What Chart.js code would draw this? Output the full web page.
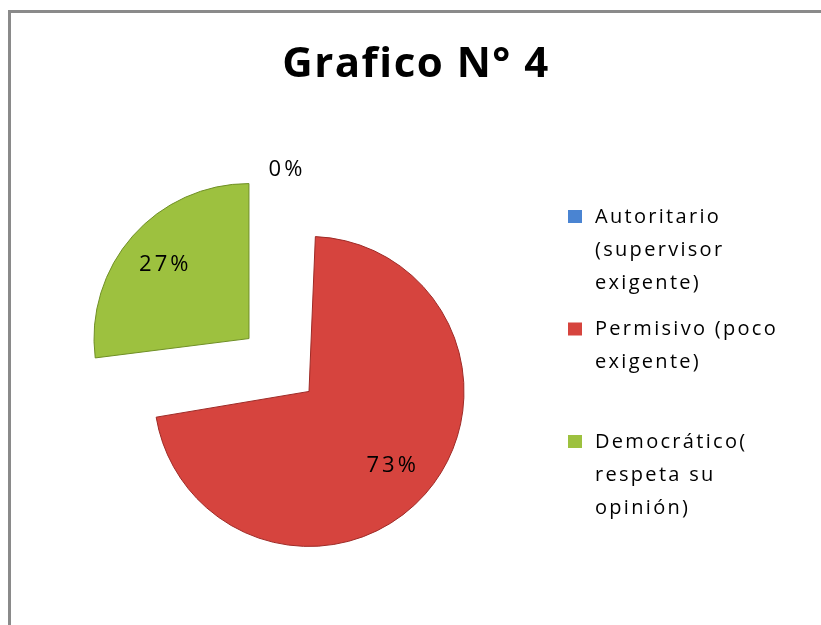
<!DOCTYPE html>
<html>
<head>
<meta charset="utf-8">
<script src="https://cdn.jsdelivr.net/npm/chart.js@4.4.1/dist/chart.umd.min.js"></script>
<style>
  html, body { margin: 0; padding: 0; background: #fff; }
  #marco {
    position: absolute; left: 8px; top: 10px; width: 813px; height: 615px;
    border-top: 3px solid #8a8a8a; border-left: 3px solid #8a8a8a; box-sizing: border-box;
  }
  #marco canvas { display: block; }
</style>
</head>
<body>
<div id="marco"><canvas id="myChart" width="810" height="612"></canvas></div>
<script>
// datos del grafico
const titulo = 'Grafico N° 4';
const categorias = ['Autoritario (supervisor exigente)', 'Permisivo (poco exigente)', 'Democrático( respeta su opinión)'];
const porcentajes = [0, 73, 27];
const colores = ['#4a84d2', '#d6443e', '#9dc13f'];
const bordes = ['#2f5f9e', '#9e2a26', '#6f8f25'];

const fuente = '"Open Sans", "DejaVu Sans", sans-serif';

// Chart.js agranda el radio de los arcos grandes con el offset; se compensa
function crecimiento(arco) {
    const circ = arco.endAngle - arco.startAngle;
    return (arco.options.offset / 4) * (1 - Math.sin(Math.min(Math.PI, circ)));
}

const pluginRadio = {
    id: 'radioIgual',
    afterDatasetUpdate(chart, args) {
        args.meta.data.forEach(function (arco) {
            arco.outerRadius = arco.outerRadius - crecimiento(arco);
        });
    }
};

// titulo dibujado en el centro del canvas
const pluginTitulo = {
    id: 'tituloCentro',
    afterDraw(chart) {
        const ctx = chart.ctx;
        ctx.save();
        ctx.font = 'bold 42px ' + fuente;
        ctx.letterSpacing = '1.5px';
        ctx.fillStyle = '#000';
        ctx.textAlign = 'center';
        ctx.textBaseline = 'alphabetic';
        ctx.fillText(titulo, chart.width / 2, 64);
        ctx.restore();
    }
};

// etiquetas de porcentaje sobre cada porcion
const pluginEtiquetas = {
    id: 'etiquetas',
    afterDatasetsDraw(chart) {
        const ctx = chart.ctx;
        const meta = chart.getDatasetMeta(0);
        ctx.save();
        ctx.font = '22px ' + fuente;
        ctx.letterSpacing = '3px';
        ctx.fillStyle = '#000';
        ctx.textAlign = 'center';
        ctx.textBaseline = 'middle';
        meta.data.forEach(function (arco, i) {
            const p = arco.getProps(['x', 'y', 'startAngle', 'endAngle', 'outerRadius']);
            const medio = (p.startAngle + p.endAngle) / 2;
            const desp = arco.options.offset / 4;
            const rVis = p.outerRadius + crecimiento(arco);
            let dist;
            if (porcentajes[i] == 0) {
                dist = rVis + 40;
            } else {
                dist = desp + rVis * 0.72;
            }
            ctx.fillText(porcentajes[i] + '%', p.x + Math.cos(medio) * dist + (porcentajes[i] == 0 ? 8 : 0), p.y + Math.sin(medio) * dist);
        });
        ctx.restore();
    }
};

// leyenda a la derecha con texto en varias lineas
const pluginLeyenda = {
    id: 'leyendaDerecha',
    afterDraw(chart) {
        const ctx = chart.ctx;
        const x0 = 557, y0 = 204, alto = 112.5, linea = 33, anchoMax = 190;
        ctx.save();
        ctx.font = '20px ' + fuente;
        ctx.letterSpacing = '2.3px';
        ctx.textBaseline = 'middle';
        ctx.textAlign = 'left';
        categorias.forEach(function (cat, i) {
            const palabras = cat.split(' ');
            let lineas = [];
            let actual = '';
            palabras.forEach(function (w) {
                const prueba = actual ? actual + ' ' + w : w;
                if (ctx.measureText(prueba).width > anchoMax && actual) {
                    lineas.push(actual);
                    actual = w;
                } else {
                    actual = prueba;
                }
            });
            lineas.push(actual);
            const y = y0 + i * alto;
            ctx.fillStyle = colores[i];
            ctx.fillRect(x0, y - 7, 14, 13);
            ctx.fillStyle = '#000';
            lineas.forEach(function (l, j) {
                ctx.fillText(l, x0 + 27, y + j * linea);
            });
        });
        ctx.restore();
    }
};

const dados = {
    labels: categorias,
    datasets: [{
        data: porcentajes,
        backgroundColor: colores,
        borderColor: bordes,
        borderWidth: [0, 1, 1],
        offset: 160,
        radius: 155
    }]
};

const config = {
    type: 'pie',
    data: dados,
    options: {
        responsive: false,
        animation: false,
        layout: { padding: { left: 68, top: 152, right: 342, bottom: 60 } },
        plugins: {
            legend: { display: false },
            title: { display: false },
            tooltip: { enabled: false }
        }
    },
    plugins: [pluginRadio, pluginTitulo, pluginEtiquetas, pluginLeyenda]
};

let myChart = new Chart(document.getElementById('myChart'), config);
</script>
</body>
</html>
